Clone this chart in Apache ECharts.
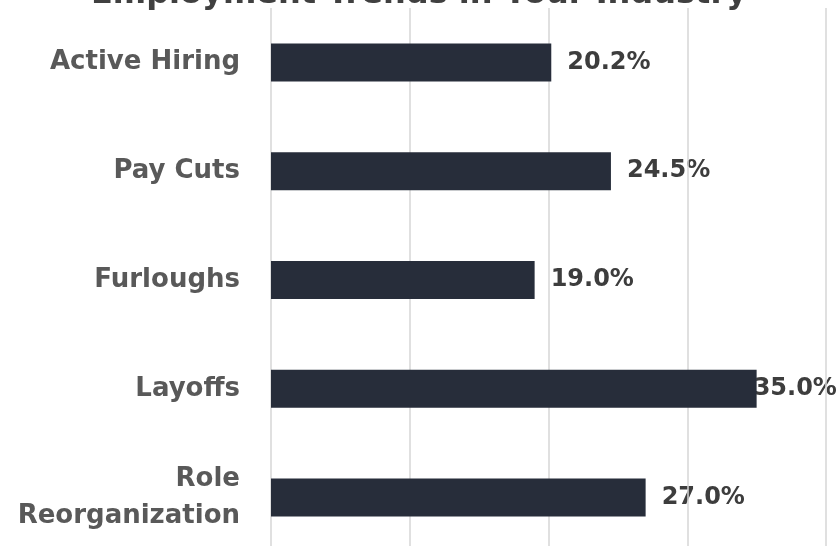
<!DOCTYPE html>
<html>
<head>
<meta charset="utf-8">
<script src="https://cdn.jsdelivr.net/npm/echarts@6/dist/echarts.min.js"></script>
<style>html,body{margin:0;padding:0;background:#fff}#c{width:838px;height:546px}</style>
</head>
<body>
<div id="c"></div>
<script>
var categories = ['Active Hiring', 'Pay Cuts', 'Furloughs', 'Layoffs', 'Role\nReorganization'];
var values = [20.2, 24.5, 19.0, 35.0, 27.0];
var xTicks = [0, 10, 20, 30, 40];

var FONT = 'DejaVu Sans';
var chart = echarts.init(document.getElementById('c'));
chart.setOption({
  animation: false,
  title: {
    text: 'Employment Trends in Your Industry',
    left: 'center',
    top: -26,
    textStyle: { fontFamily: FONT, fontSize: 32, fontWeight: 'bold', color: '#404040' }
  },
  grid: { left: 271, right: 12, top: 8, height: 544, containLabel: false, outerBoundsMode: 'none' },
  xAxis: {
    type: 'value', min: xTicks[0], max: xTicks[xTicks.length - 1], interval: 10,
    z: 1,
    axisLabel: { show: false }, axisLine: { show: false }, axisTick: { show: false },
    splitLine: { show: true, lineStyle: { color: '#d6d6d6', width: 1.5 } }
  },
  yAxis: {
    type: 'category', data: categories, inverse: true,
    axisLine: { show: false }, axisTick: { show: false },
    axisLabel: { margin: 31, fontFamily: FONT, fontSize: 26, fontWeight: 'bold', color: '#595959', align: 'right', lineHeight: 37 }
  },
  series: [{
    type: 'bar', data: values,
    barWidth: 38, z: 2,
    itemStyle: { color: '#272d3a' }
  }, {
    type: 'bar', barGap: '-100%', barWidth: 38, z: 0.5,
    data: values.map(function (v) {
      var d = { value: v };
      if (v === 35.0) d.label = { offset: [-19, 0] };
      return d;
    }),
    itemStyle: { color: 'rgba(0,0,0,0)' },
    silent: true,
    label: {
      show: true, position: 'right', distance: 16,
      formatter: function (p) { return p.value.toFixed(1) + '%'; },
      fontFamily: FONT, fontSize: 24, fontWeight: 'bold', color: '#3d3d3d'
    }
  }]
});
</script>
</body>
</html>
